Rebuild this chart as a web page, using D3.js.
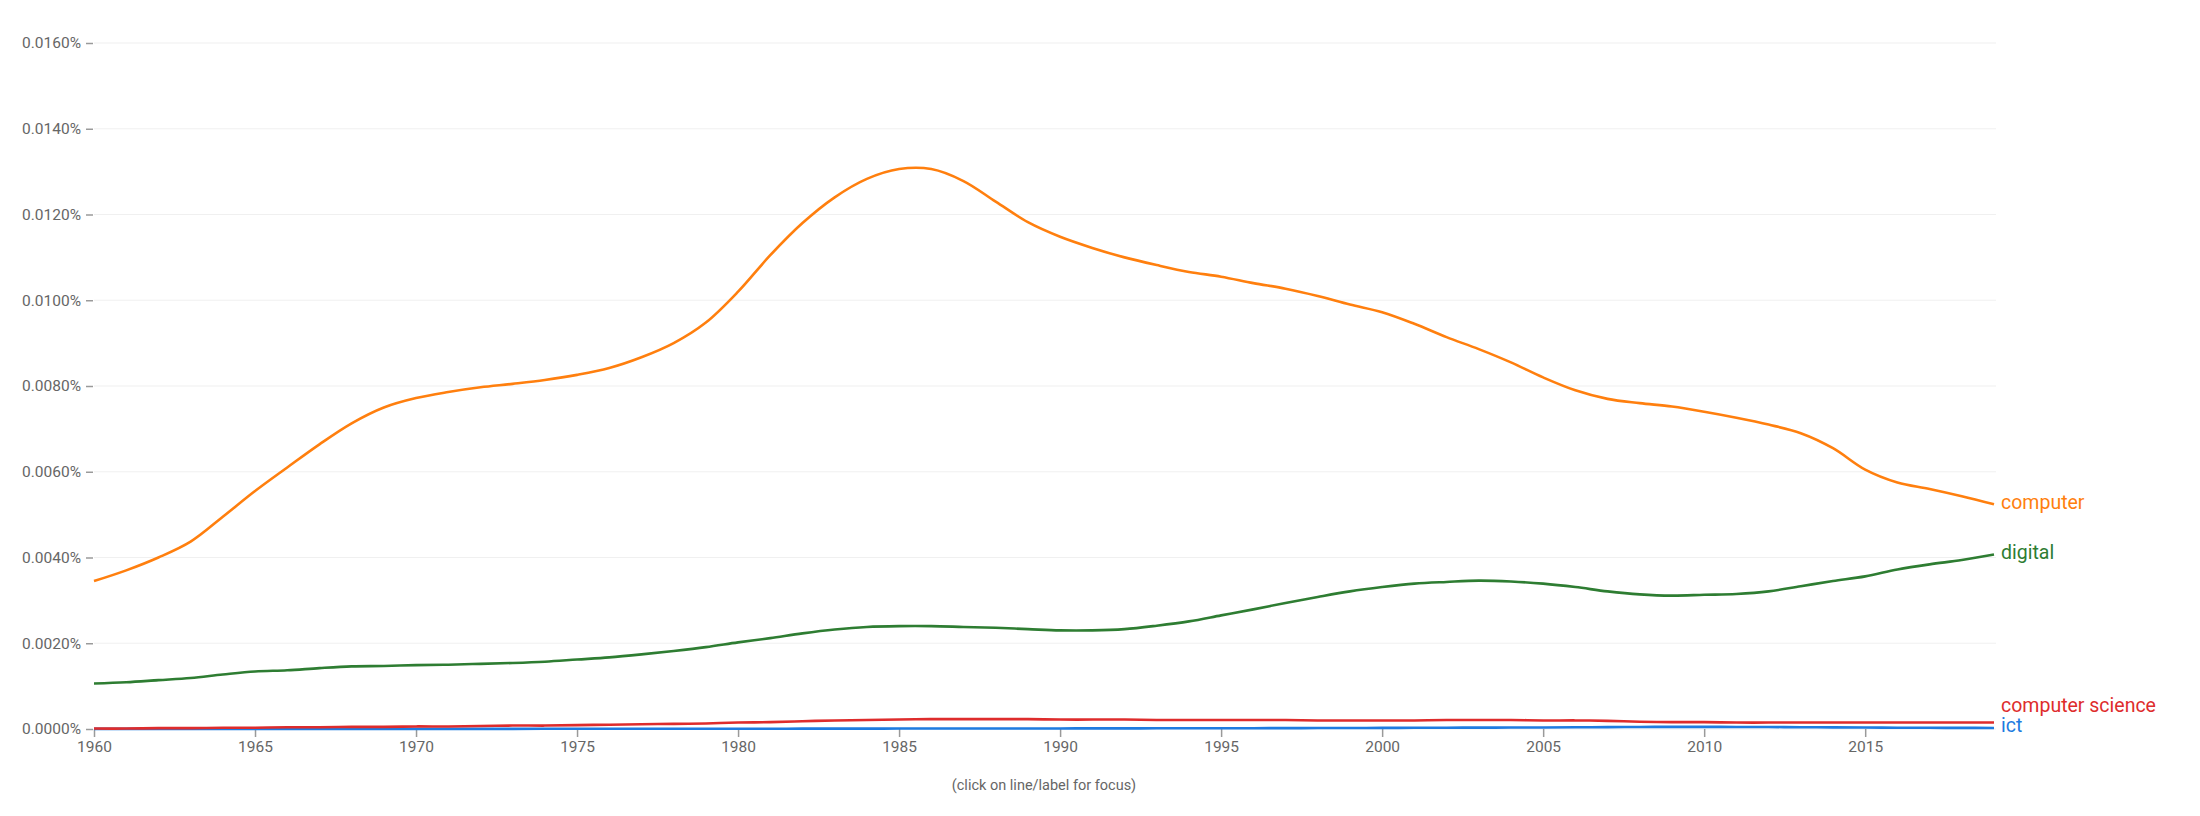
<!DOCTYPE html>
<html>
<head>
<meta charset="utf-8">
<script src="https://cdn.jsdelivr.net/npm/d3@7"></script>
<style>
  html, body { margin: 0; padding: 0; background: #fff; }
  svg { display: block; font-family: Roboto, "Open Sans", sans-serif; }
</style>
</head>
<body>
<svg id="chart" width="2200" height="816"></svg>
<script>
const years = d3.range(1960, 2020);
const yTicks = [0, 0.002, 0.004, 0.006, 0.008, 0.010, 0.012, 0.014, 0.016];
const xTicks = [1960, 1965, 1970, 1975, 1980, 1985, 1990, 1995, 2000, 2005, 2010, 2015];
const seriesNames = ["computer", "digital", "computer science", "ict"];
const seriesColors = ["#ff7f0e", "#2e7d32", "#de2c2c", "#1e7be0"];

const computer = [
  0.00345, 0.00370, 0.00400, 0.00437, 0.00495, 0.00555, 0.00610, 0.00664, 0.00713, 0.00750,
  0.00772, 0.00786, 0.00797, 0.00805, 0.00814, 0.00826, 0.00842, 0.00867, 0.00900, 0.00948,
  0.01020, 0.01105, 0.01180, 0.01240, 0.01283, 0.01306, 0.01306, 0.01278, 0.01230, 0.01182,
  0.01148, 0.01122, 0.01100, 0.01082, 0.01066, 0.01055, 0.01040, 0.01027, 0.01010, 0.00990,
  0.00972, 0.00945, 0.00914, 0.00886, 0.00855, 0.00820, 0.00790, 0.00770, 0.00760, 0.00752,
  0.00740, 0.00726, 0.00710, 0.00690, 0.00655, 0.00605, 0.00575, 0.00560, 0.00543, 0.00524
];
const digital = [
  0.00106, 0.00109, 0.00114, 0.00119, 0.00127, 0.00134, 0.00137, 0.00142, 0.00146, 0.00147,
  0.00149, 0.00150, 0.00152, 0.00154, 0.00157, 0.00162, 0.00167, 0.00174, 0.00182, 0.00191,
  0.00202, 0.00212, 0.00223, 0.00232, 0.00238, 0.00240, 0.00240, 0.00238, 0.00236, 0.00233,
  0.00230, 0.00230, 0.00233, 0.00241, 0.00251, 0.00265, 0.00279, 0.00294, 0.00308, 0.00321,
  0.00331, 0.00339, 0.00343, 0.00346, 0.00344, 0.00339, 0.00331, 0.00321, 0.00314, 0.00311,
  0.00313, 0.00315, 0.00321, 0.00333, 0.00345, 0.00356, 0.00372, 0.00384, 0.00394, 0.00407
];
const computerScience = [
  0.00001, 0.00001, 0.00002, 0.00002, 0.00003, 0.00003, 0.00004, 0.00004, 0.00005, 0.00005,
  0.00006, 0.00006, 0.00007, 0.00008, 0.00008, 0.00009, 0.00010, 0.00011, 0.00012, 0.00013,
  0.00015, 0.00016, 0.00018, 0.00020, 0.00021, 0.00022, 0.00023, 0.00023, 0.00023, 0.00023,
  0.00022, 0.00022, 0.00022, 0.00021, 0.00021, 0.00021, 0.00021, 0.00021, 0.00020, 0.00020,
  0.00020, 0.00020, 0.00021, 0.00021, 0.00021, 0.00020, 0.00020, 0.00019, 0.00017, 0.00016,
  0.00016, 0.00015, 0.00015, 0.00015, 0.00015, 0.00015, 0.00015, 0.00015, 0.00015, 0.00015
];
const ict = [
  0.000003, 0.000003, 0.000003, 0.000003, 0.000003, 0.000003, 0.000003, 0.000003, 0.000003, 0.000003,
  0.000004, 0.000004, 0.000004, 0.000004, 0.000005, 0.000005, 0.000005, 0.000005, 0.000006, 0.000006,
  0.000007, 0.000007, 0.000008, 0.000008, 0.000009, 0.000010, 0.000010, 0.000011, 0.000012, 0.000012,
  0.000013, 0.000014, 0.000015, 0.000016, 0.000017, 0.000018, 0.000019, 0.000020, 0.000022, 0.000024,
  0.000026, 0.000028, 0.000030, 0.000032, 0.000034, 0.000036, 0.000040, 0.000044, 0.000048, 0.000050,
  0.000050, 0.000048, 0.000046, 0.000042, 0.000038, 0.000034, 0.000030, 0.000028, 0.000026, 0.000024
];
const seriesValues = [computer, digital, computerScience, ict];

const svg = d3.select("#chart");
const x = d3.scaleLinear().domain([1960, 2019]).range([94, 1994]);
const y = d3.scaleLinear().domain([0, 0.016]).range([729, 43]);
const textColor = "#666666";

// gridlines
svg.append("g").selectAll("line").data(yTicks).join("line")
  .attr("x1", 94).attr("x2", 1996)
  .attr("y1", d => y(d)).attr("y2", d => y(d))
  .attr("stroke", "#f0f0f0").attr("stroke-width", 1.2);

// y axis
const yAxis = d3.axisLeft(y).tickValues(yTicks)
  .tickFormat(d => (d).toFixed(4) + "%").tickSize(7).tickPadding(5);
const gy = svg.append("g").attr("transform", "translate(93,0)").call(yAxis);
gy.select(".domain").remove();
gy.selectAll("line").attr("stroke", "#9a9a9a").attr("stroke-width", 1.5);
gy.selectAll("text").attr("fill", textColor).attr("font-size", 15.5)
  .attr("font-family", "Roboto, sans-serif");

// x axis
const xAxis = d3.axisBottom(x).tickValues(xTicks).tickFormat(d3.format("d"))
  .tickSize(8).tickPadding(4);
const gx = svg.append("g").attr("transform", "translate(0,729)").call(xAxis);
gx.select(".domain").remove();
gx.selectAll("line").attr("stroke", "#9a9a9a").attr("stroke-width", 1.5);
gx.selectAll("text").attr("fill", textColor).attr("font-size", 15.5)
  .attr("font-family", "Roboto, sans-serif");

// lines
const line = d3.line().x((d, i) => x(years[i])).y(d => y(d)).curve(d3.curveCatmullRom.alpha(0.5));
const drawOrder = [3, 2, 1, 0];
drawOrder.forEach(k => {
  svg.append("path").datum(seriesValues[k])
    .attr("d", line)
    .attr("fill", "none")
    .attr("stroke", seriesColors[k])
    .attr("stroke-width", 2.6)
    .attr("stroke-linejoin", "round");
});

// end labels with simple collision avoidance (bottom-up)
const labels = seriesNames.map((n, k) => ({ name: n, color: seriesColors[k], yy: y(seriesValues[k][seriesValues[k].length - 1]) }));
const sorted = labels.slice().sort((a, b) => b.yy - a.yy);
let limit = 727;
sorted.forEach(l => {
  l.yy = Math.min(l.yy, limit);
  limit = l.yy - 20;
});
svg.append("g").selectAll("text").data(labels).join("text")
  .attr("x", 2001).attr("y", d => d.yy - 2)
  .attr("dy", "0.35em")
  .attr("fill", d => d.color)
  .attr("font-size", 19.5)
  .attr("font-family", "Roboto, sans-serif")
  .text(d => d.name);

// footer
svg.append("text")
  .attr("x", 1044).attr("y", 785).attr("dy", "0.35em")
  .attr("text-anchor", "middle")
  .attr("fill", textColor).attr("font-size", 14.5)
  .attr("font-family", "Roboto, sans-serif")
  .text("(click on line/label for focus)");
</script>
</body>
</html>
